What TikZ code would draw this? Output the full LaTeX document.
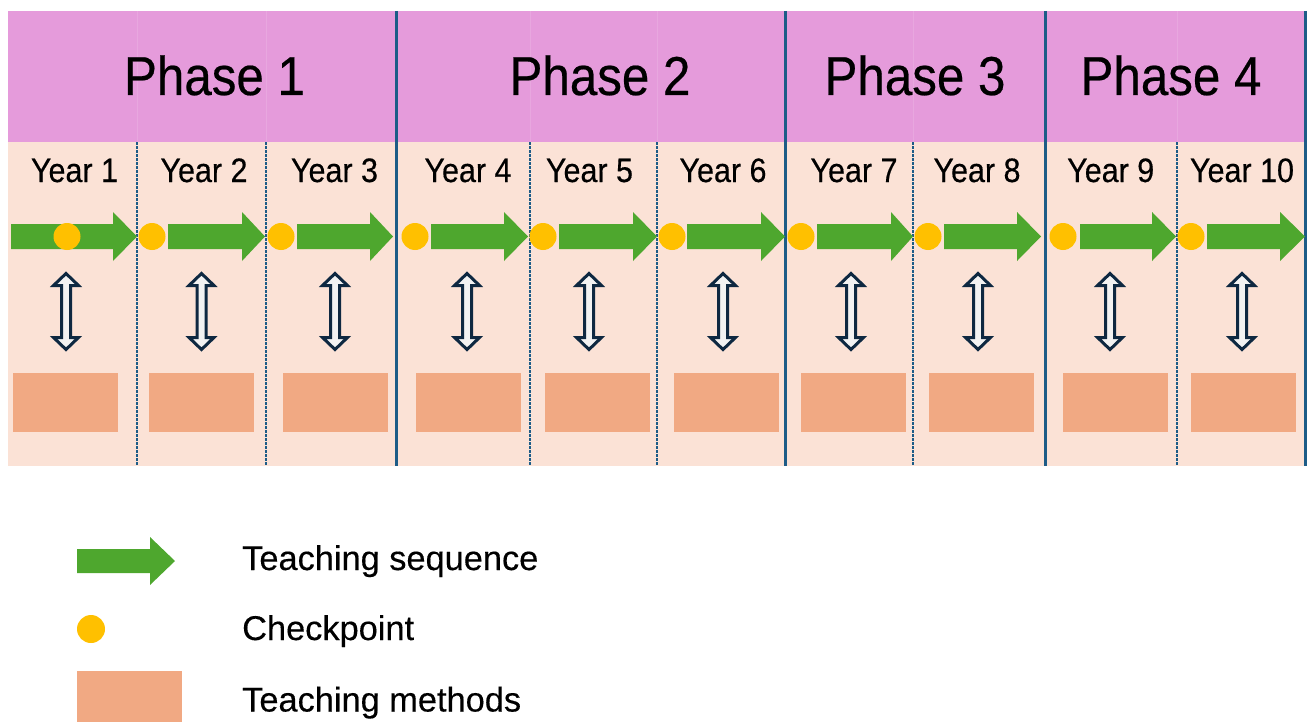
\documentclass[tikz,border=0pt]{standalone}
\usepackage{fontspec}
\setmainfont{Liberation Sans}
\newfontfamily\condf[FakeStretch=0.9,FakeBold=0.4]{Liberation Sans}
\newfontfamily\legf[FakeBold=0.3]{Liberation Sans}
\definecolor{hdr}{HTML}{E59BDB}
\definecolor{body}{HTML}{FBE2D6}
\definecolor{meth}{HTML}{F1A983}
\definecolor{seqg}{HTML}{4EA72E}
\definecolor{chk}{HTML}{FFC000}
\definecolor{pline}{HTML}{1D5C87}
\definecolor{dnavy}{HTML}{0E2841}
\definecolor{dfill}{HTML}{F2F2F2}
\tikzset{
  seqarrow/.style={fill=seqg, draw=none},
  checkdot/.style={fill=chk, draw=none},
  methbox/.style={fill=meth, draw=none},
  dblarrow/.style={fill=dfill, draw=dnavy, line width=3bp, line join=miter},
  phaseline/.style={draw=pline, line width=3bp},
  yearline/.style={draw=pline, line width=1.1bp, dash pattern=on 2.5bp off 1.5bp},
  phaselabel/.style={anchor=base, inner sep=0pt, font=\condf\fontsize{55}{60}\selectfont},
  yearlabel/.style={anchor=base, inner sep=0pt, font=\condf\fontsize{34}{38}\selectfont},
  leglabel/.style={anchor=base west, inner sep=0pt, font=\legf\fontsize{34.5}{38}\selectfont},
}
\begin{document}
\begin{tikzpicture}[x=1bp,y=-1bp]
\useasboundingbox (0,0) rectangle (1314,722);
% background bands
\fill[body] (8,11) rectangle (1305,466);
\fill[hdr] (8,11) rectangle (1305,142);
% faint year dividers in header
\foreach \x in {137,266,530,657,913,1177}
  \draw[white, opacity=0.12, line width=0.8bp] (\x,11) -- (\x,142);
% dashed year dividers
\foreach \x in {137,266,530,657,913,1177}
  \draw[yearline] (\x,142) -- (\x,466);
% phase dividers
\foreach \x in {396,785,1045,1305}
  \draw[phaseline] (\x,11) -- (\x,466);
% phase labels
\node[phaselabel] (ph1) at (214.5,95) {Phase 1};
\node[phaselabel] (ph2) at (600,95) {Phase 2};
\node[phaselabel] (ph3) at (915,95) {Phase 3};
\node[phaselabel] (ph4) at (1171,95) {Phase 4};
% year columns
\foreach \n/\cx/\sx/\hb/\tx/\dx/\rx/\lx in {
  1/67/11/113/137/66/13/74.5,
  2/152/168/242/265/201.5/149/204,
  3/281/297/370/393/335/283/334.5,
  4/415/431/504/528/467/416/468,
  5/543/559/633/657/589/545/589.5,
  6/672/687/761/785/723/674/723,
  7/801/817/891/913/851/801/854,
  8/928/944/1017/1041/978/929/977,
  9/1063/1080/1152/1176/1110/1063/1110.7,
  10/1191/1207/1280/1305/1242/1191/1242}{
  \node[yearlabel] (y\n) at (\lx,182) {Year \n};
  \fill[seqarrow] (\sx,224) -- (\hb,224) -- (\hb,212) -- (\tx,236.5) -- (\hb,261) -- (\hb,249) -- (\sx,249) -- cycle;
  \fill[checkdot] (\cx,236.5) circle (13.5);
  \draw[dblarrow] (\dx,273.5) -- (\dx+12.5,285.5) -- (\dx+4.5,285.5) -- (\dx+4.5,337.5) -- (\dx+12.5,337.5) -- (\dx,349.5)
     -- (\dx-12.5,337.5) -- (\dx-4.5,337.5) -- (\dx-4.5,285.5) -- (\dx-12.5,285.5) -- cycle;
  \fill[methbox] (\rx,373) rectangle (\rx+105,432);
}
% legend
\fill[seqarrow] (77,549) -- (150,549) -- (150,537) -- (175,561) -- (150,585) -- (150,573) -- (77,573) -- cycle;
\fill[checkdot] (91,629) circle (14);
\fill[methbox] (77,671) rectangle (182,722);
\node[leglabel] (l1) at (242,570) {Teaching sequence};
\node[leglabel] (l2) at (242,640) {Checkpoint};
\node[leglabel] (l3) at (242,711.5) {Teaching methods};
\end{tikzpicture}
\end{document}
